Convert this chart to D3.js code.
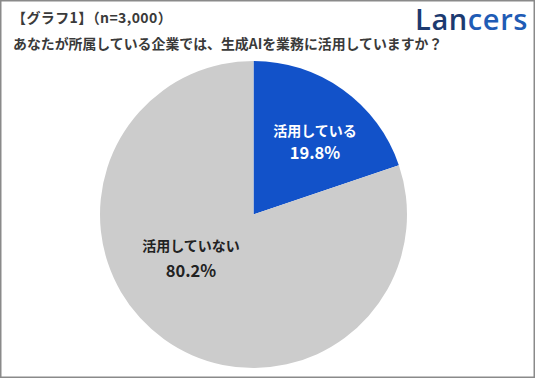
<!DOCTYPE html>
<html><head><meta charset="utf-8">
<script src="https://cdn.jsdelivr.net/npm/d3@7"></script>
<style>body{margin:0;background:#fff;}svg{display:block;}</style>
</head><body>
<script>
const categories = ["活用している", "活用していない"];
const values = [19.8, 80.2];
const valueLabels = ["19.8%", "80.2%"];
const titleLine1 = "【グラフ1】（n=3,000）";
const titleLine2 = "あなたが所属している企業では、生成AIを業務に活用していますか？";

const W = 536, H = 379;
const svg = d3.select("body").append("svg").attr("width", W).attr("height", H);
svg.append("rect").attr("x", 0.75).attr("y", 0.75).attr("width", W - 2.5).attr("height", H - 2.5)
  .attr("fill", "#fff").attr("stroke", "#8a8a8a").attr("stroke-width", 1.5);

const jp = "'Noto Sans CJK JP', 'Noto Sans', sans-serif";
svg.append("text").attr("x", 12).attr("y", 23).attr("font-family", jp).attr("font-weight", "bold")
  .attr("font-size", 14).attr("letter-spacing", 0.4).attr("fill", "#3a3a3a").text(titleLine1);
svg.append("text").attr("x", 13).attr("y", 48.5).attr("font-family", jp).attr("font-weight", "bold")
  .attr("font-size", 13.9).attr("fill", "#3a3a3a").text(titleLine2);

const logo = svg.append("text").attr("x", 528).attr("y", 30).attr("text-anchor", "end")
  .attr("font-family", "'Open Sans', 'Noto Sans', sans-serif").attr("font-weight", 600)
  .attr("font-size", 29).attr("letter-spacing", 0.6);
logo.append("tspan").attr("fill", "#1c3a70").text("Lan");
logo.append("tspan").attr("fill", "#1f5cb5").text("cers");

const cx = 253.5, cy = 214.5, r = 153.5;
const colors = d3.scaleOrdinal().domain(categories).range(["#1252c9", "#cccccc"]);
const pie = d3.pie().sort(null).value(d => d.v);
const data = categories.map((c, i) => ({c, v: values[i], l: valueLabels[i]}));
const arcs = pie(data);
const arc = d3.arc().innerRadius(0).outerRadius(r);
const g = svg.append("g").attr("transform", `translate(${cx},${cy})`);
g.selectAll("path").data(arcs).enter().append("path")
  .attr("d", arc).attr("fill", d => colors(d.data.c));

// label positions: centroid-based with per-slice tweaks
const labelArc = d3.arc().innerRadius(0).outerRadius(r * 1.25);
const offsets = [[5.6, 4.5], [-6.6, -35]];
const gaps = [[-11, 11], [-12, 13]];
const textColors = ["#ffffff", "#222222"];
arcs.forEach((a, i) => {
  const [x, y] = labelArc.centroid(a);
  const lx = x + offsets[i][0], ly = y + offsets[i][1];
  g.append("text").attr("x", lx).attr("y", ly + gaps[i][0]).attr("text-anchor", "middle")
    .attr("font-family", jp).attr("font-weight", "bold").attr("font-size", 14)
    .attr("fill", textColors[i]).attr("dominant-baseline", "central").text(a.data.c);
  g.append("text").attr("x", lx).attr("y", ly + gaps[i][1]).attr("text-anchor", "middle")
    .attr("font-family", jp).attr("font-weight", "bold").attr("font-size", 16.5)
    .attr("fill", textColors[i]).attr("dominant-baseline", "central").text(a.data.l);
});
</script>
</body></html>
